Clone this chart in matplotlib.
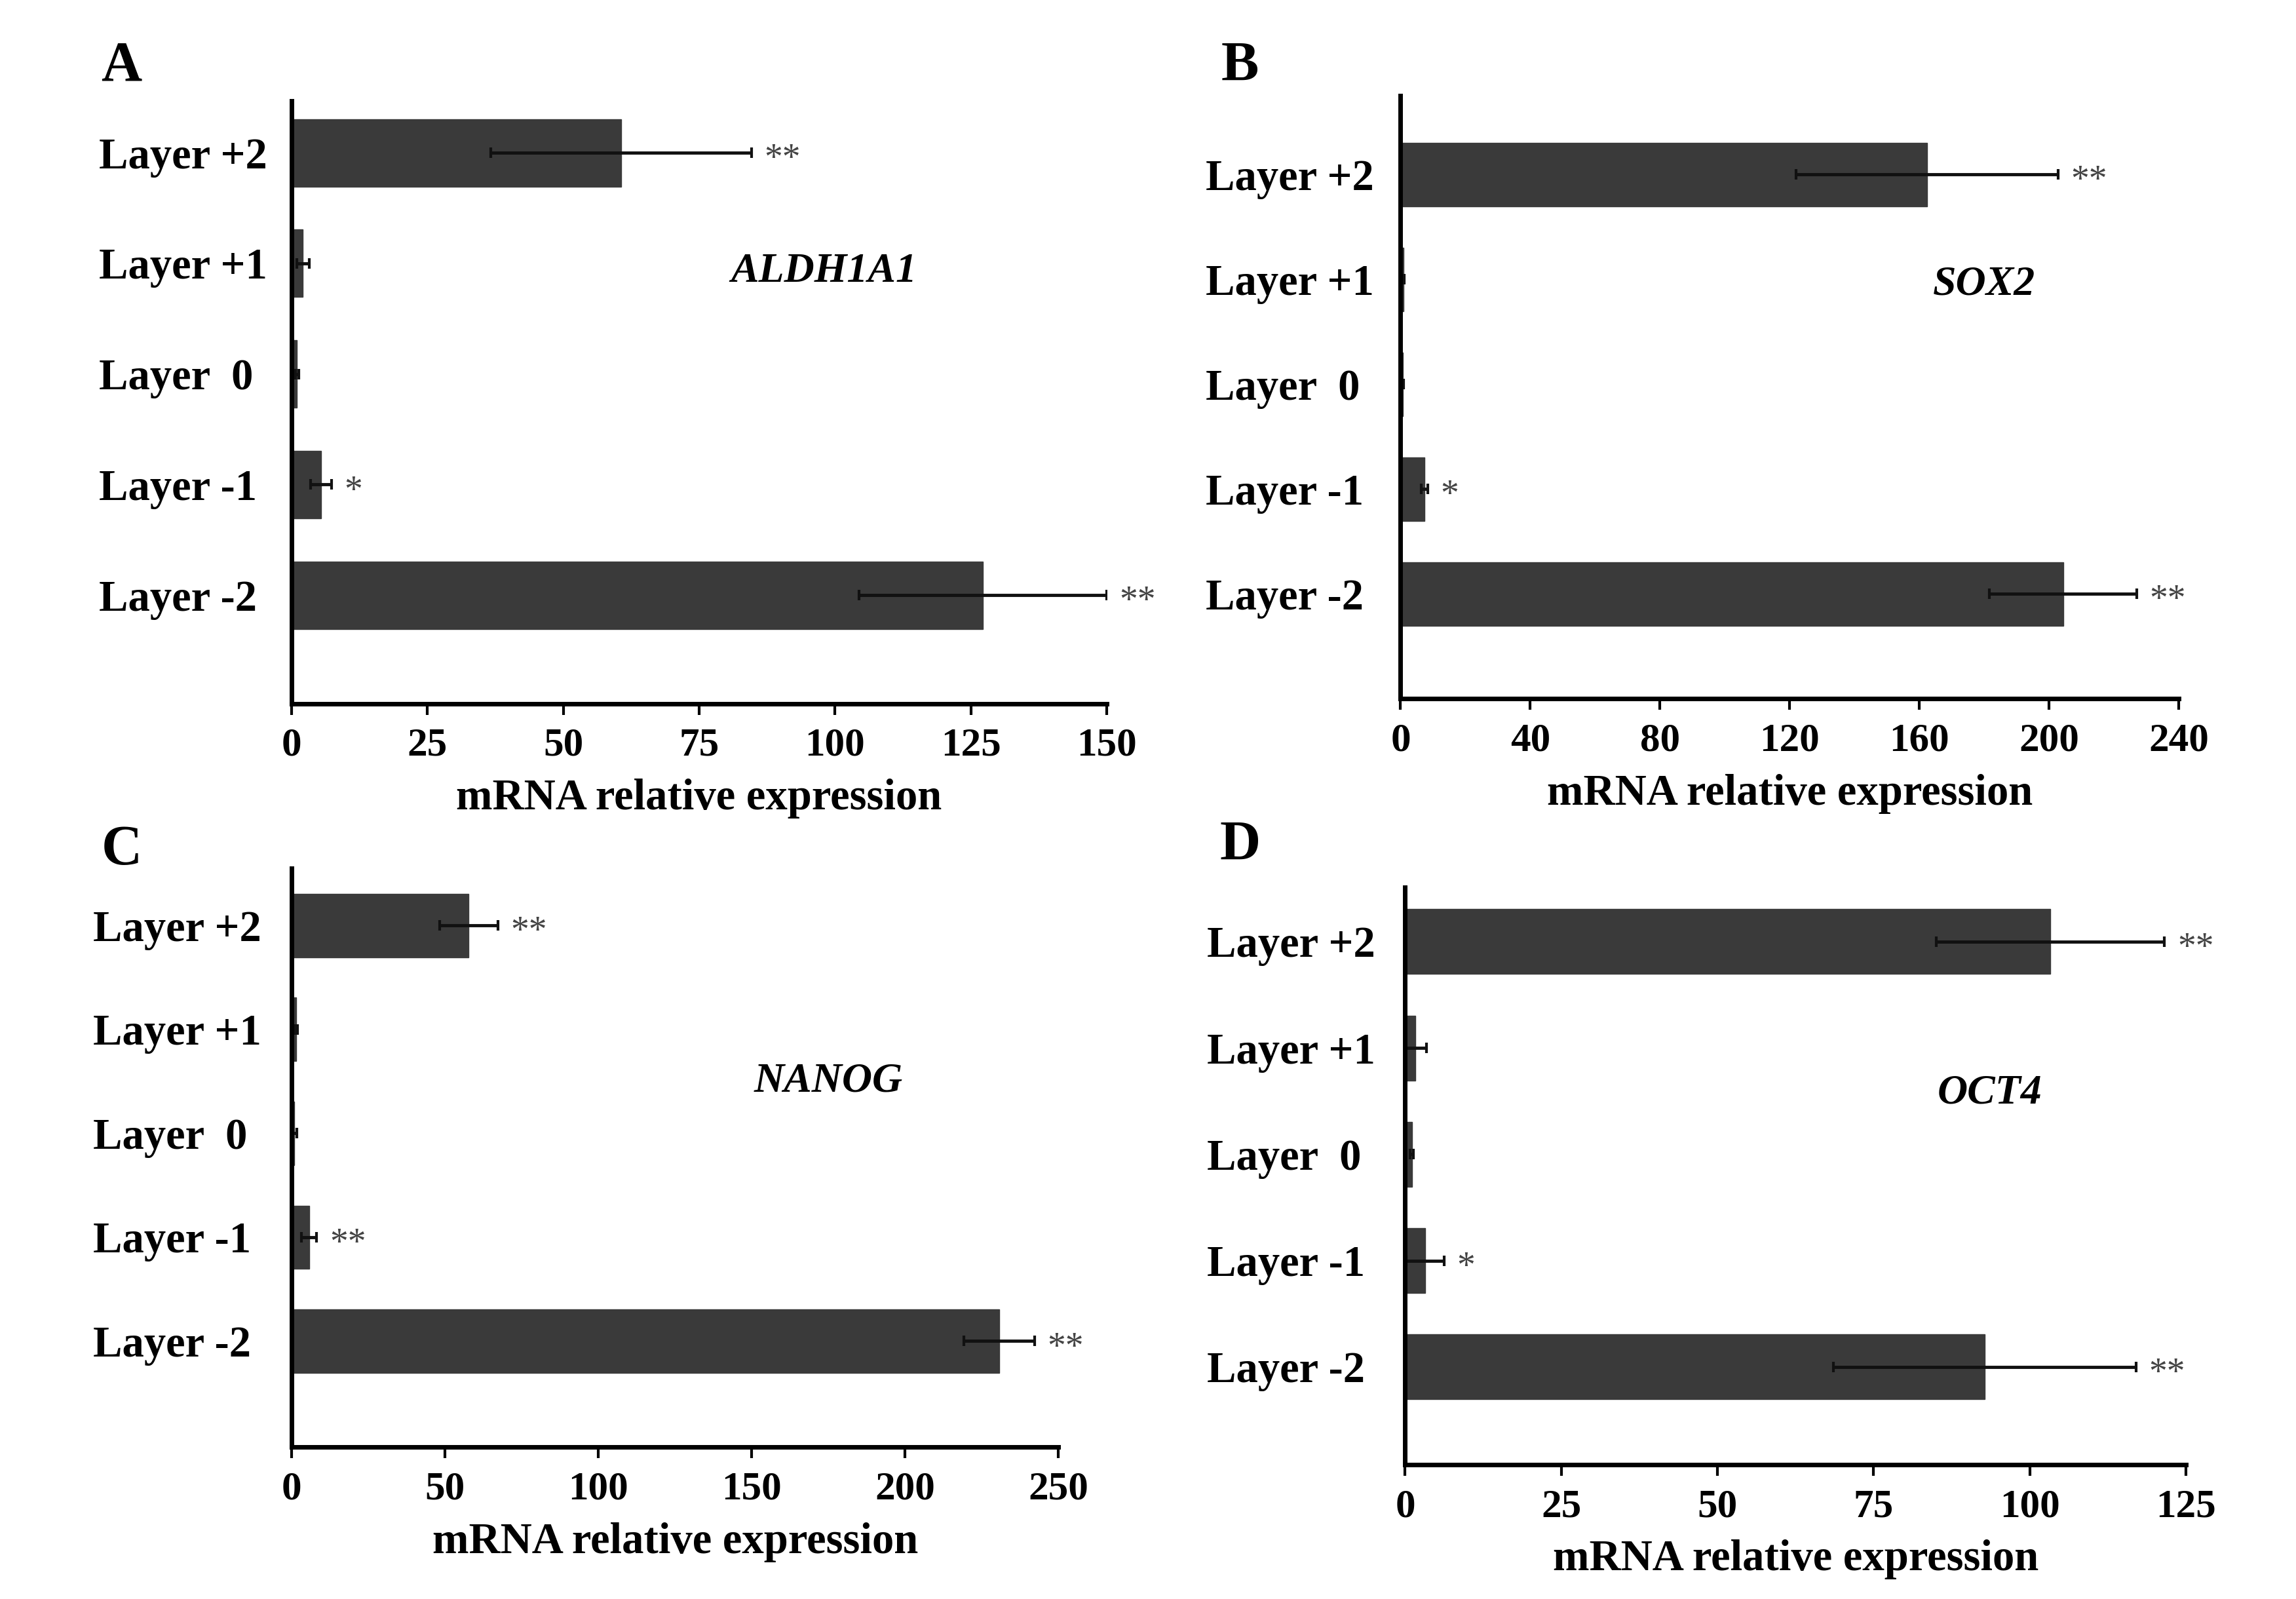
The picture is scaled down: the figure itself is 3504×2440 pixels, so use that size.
import numpy as np
import matplotlib
matplotlib.use("Agg")
import matplotlib.pyplot as plt

plt.rcParams['font.family'] = ['Liberation Serif', 'DejaVu Serif']
plt.rcParams['font.weight'] = 'bold'

# categories, bottom to top
layers = ['Layer -2', 'Layer -1', 'Layer  0', 'Layer +1', 'Layer +2']

# panel A - ALDH1A1
aldh1a1_mean = [127.2, 5.4, 1.0, 2.1, 60.6]
aldh1a1_err = [22.8, 1.9, 0.3, 1.1, 24.0]
aldh1a1_sig = ['**', '*', '', '', '**']

# panel B - SOX2
sox2_mean = [204.3, 7.3, 0.8, 0.9, 162.4]
sox2_err = [22.7, 1.0, 0.2, 0.2, 40.4]
sox2_sig = ['**', '*', '', '', '**']

# panel C - NANOG
nanog_mean = [230.7, 5.7, 0.9, 1.5, 57.7]
nanog_err = [11.6, 2.5, 0.8, 0.4, 9.5]
nanog_sig = ['**', '**', '', '', '**']

# panel D - OCT4
oct4_mean = [92.8, 3.2, 1.06, 1.65, 103.3]
oct4_err = [24.2, 3.0, 0.3, 1.8, 18.3]
oct4_sig = ['**', '*', '', '', '**']

BAR_COLOR = '#3a3a3a'

# ----------------------------
# panel layout (figure fractions) and per-panel options
# ----------------------------
panels = [
    dict(letter='A', gene='ALDH1A1', mean=aldh1a1_mean, err=aldh1a1_err, sig=aldh1a1_sig,
         rect=[0.127, 0.560, 0.355, 0.377], xmax=150, xticks=[0, 25, 50, 75, 100, 125, 150],
         ylim=(-0.98, 4.47), gene_xy=(98, 2.92), letter_xy=(0.053, 0.958), label_pad=212),
    dict(letter='B', gene='SOX2', mean=sox2_mean, err=sox2_err, sig=sox2_sig,
         rect=[0.610, 0.563, 0.339, 0.377], xmax=240, xticks=[0, 40, 80, 120, 160, 200, 240],
         ylim=(-1.0, 4.75), gene_xy=(180, 2.95), letter_xy=(0.540, 0.958), label_pad=214),
    dict(letter='C', gene='NANOG', mean=nanog_mean, err=nanog_err, sig=nanog_sig,
         rect=[0.127, 0.095, 0.334, 0.362], xmax=250, xticks=[0, 50, 100, 150, 200, 250],
         ylim=(-1.02, 4.55), gene_xy=(175, 2.5), letter_xy=(0.053, 0.468), label_pad=218),
    dict(letter='D', gene='OCT4', mean=oct4_mean, err=oct4_err, sig=oct4_sig,
         rect=[0.612, 0.084, 0.340, 0.361], xmax=125, xticks=[0, 25, 50, 75, 100, 125],
         ylim=(-0.92, 4.51), gene_xy=(93.6, 2.57), letter_xy=(0.540, 0.471), label_pad=218),
]

fig = plt.figure(figsize=(35.04, 24.40), dpi=100)

for p in panels:
    ax = fig.add_axes(p['rect'])
    y = np.arange(len(layers))
    ax.barh(y, p['mean'], height=0.61, color=BAR_COLOR, edgecolor=BAR_COLOR)
    ax.errorbar(p['mean'], y, xerr=p['err'], fmt='none', ecolor='#111111',
                elinewidth=3.5, capsize=6, capthick=3)

    # significance marks just right of the error caps
    for yi, (m, e, s) in enumerate(zip(p['mean'], p['err'], p['sig'])):
        if s:
            ax.annotate(s, xy=(m + e, yi), xytext=(14, -8), textcoords='offset points',
                        ha='left', va='center', fontsize=40, color='#444444',
                        fontweight='normal')

    ax.set_xlim(0, p['xmax'])
    ax.set_ylim(*p['ylim'])
    ax.set_xticks(p['xticks'])
    ax.set_xticklabels([str(t) for t in p['xticks']], fontsize=44, fontweight='bold')
    ax.set_yticks(y)
    ax.set_yticklabels(layers, fontsize=48, fontweight='bold', ha='left')
    ax.tick_params(axis='y', length=0, pad=p['label_pad'])
    ax.tick_params(axis='x', direction='out', length=12, width=3, pad=14)

    for side in ['top', 'right']:
        ax.spines[side].set_visible(False)
    for side in ['left', 'bottom']:
        ax.spines[side].set_linewidth(5)

    ax.set_xlabel('mRNA relative expression', fontsize=48, fontweight='bold', labelpad=16)

    ax.text(p['gene_xy'][0], p['gene_xy'][1], p['gene'], ha='center', va='center',
            fontsize=46, fontweight='bold', style='italic')

    fig.text(p['letter_xy'][0], p['letter_xy'][1], p['letter'], ha='center', va='center',
             fontsize=62, fontweight='bold')

fig.savefig('out.png', dpi=100, facecolor='white')
